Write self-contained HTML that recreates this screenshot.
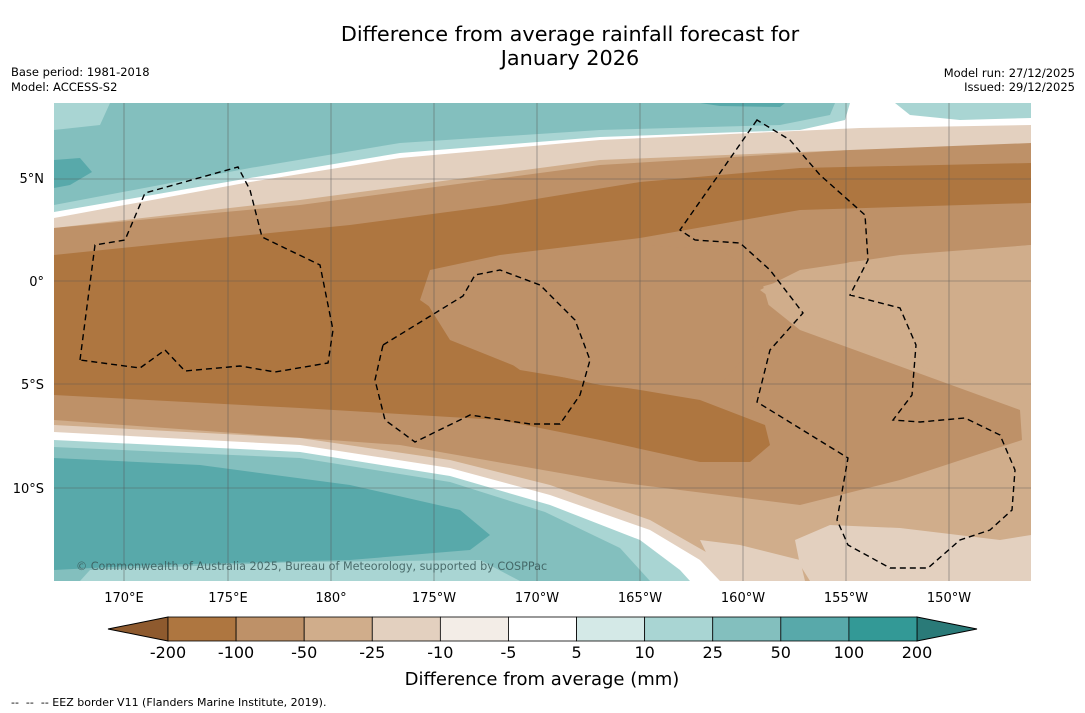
<!DOCTYPE html>
<html><head><meta charset="utf-8"><style>
body{margin:0;width:1085px;height:713px;background:#fff;font-family:"DejaVu Sans","Liberation Sans",sans-serif;overflow:hidden;position:relative}
.t{position:absolute;font-size:11.5px;color:#000}
svg text{font-family:"DejaVu Sans","Liberation Sans",sans-serif}
</style></head><body>
<div style="position:absolute;left:0;width:1140px;top:22px;text-align:center;font-size:20.8px;line-height:24px">Difference from average rainfall forecast for<br>January 2026</div>
<div class="t" style="left:11px;top:65px">Base period: 1981-2018</div>
<div class="t" style="left:11px;top:80px">Model: ACCESS-S2</div>
<div class="t" style="right:10px;top:66px;text-align:right">Model run: 27/12/2025</div>
<div class="t" style="right:10px;top:80px;text-align:right">Issued: 29/12/2025</div>
<svg width="1085" height="713" style="position:absolute;left:0;top:0">
<defs><clipPath id="mc"><rect x="54" y="103" width="977" height="478"/></clipPath></defs>
<g clip-path="url(#mc)">
<rect x="54" y="103" width="977" height="478" fill="#d0ad8b"/>
<path d="M54,103 L1031,103 L1031,150 L850,150 L600,160 L300,200 L54,228 Z" fill="#e3d0bf"/>
<path d="M54,103 L1031,103 L1031,125 L860,128 L600,140 L400,158 L250,182 L54,218 Z" fill="#fff"/>
<path d="M54,103 L850,103 L845,120 L800,130 L600,137 L400,153 L250,178 L54,212 Z" fill="#a9d5d3"/>
<path d="M54,103 L835,103 L830,115 L780,125 L600,130 L400,143 L250,168 L54,205 Z" fill="#83bfbe"/>
<path d="M54,103 L110,103 L100,125 L54,130 Z" fill="#a9d5d3"/>
<path d="M54,160 L80,158 L92,172 L70,185 L54,188 Z" fill="#58a9aa"/>
<path d="M700,103 L785,103 L780,107 L720,106 Z" fill="#58a9aa"/>
<path d="M895,103 L1031,103 L1031,118 L960,120 L910,115 Z" fill="#a9d5d3"/>
<path d="M54,228 L300,205 L600,165 L850,150 L1031,143 L1031,245 L850,262 L750,290 L800,330 L1020,410 L1022,440 L900,480 L800,505 L600,480 L400,445 L54,420 Z" fill="#be9168"/>
<path d="M54,255 L200,240 L350,225 L500,205 L640,182 L800,168 L1031,163 L1031,203 L800,210 L640,238 L500,255 L430,270 L420,300 L520,370 L700,400 L765,425 L770,445 L750,462 L700,462 L600,440 L500,420 L300,408 L54,395 Z" fill="#ae7640"/>
<path d="M430,272 L520,255 L640,245 L720,250 L760,275 L770,310 L755,345 L720,385 L690,395 L600,385 L520,368 L450,340 L425,300 Z" fill="#be9168"/>
<path d="M760,290 L800,270 L900,255 L1031,245 L1031,400 L1000,390 L900,360 L800,320 Z" fill="#d0ad8b"/>
<path d="M54,425 L300,438 L450,460 L550,485 L650,520 L720,560 L750,581 L54,581 Z" fill="#e3d0bf"/>
<path d="M54,432 L300,445 L450,468 L550,495 L650,530 L700,560 L720,581 L54,581 Z" fill="#fff"/>
<path d="M54,440 L300,452 L450,476 L550,505 L640,540 L680,570 L690,581 L54,581 Z" fill="#a9d5d3"/>
<path d="M54,447 L300,458 L450,482 L545,512 L620,548 L650,581 L54,581 Z" fill="#83bfbe"/>
<path d="M54,458 L200,465 L350,485 L460,510 L490,535 L470,550 L350,560 L150,565 L54,570 Z" fill="#58a9aa"/>
<path d="M90,570 L300,562 L480,560 L520,581 L80,581 Z" fill="#a9d5d3"/>
<path d="M795,540 L830,525 L900,528 L1000,540 L1031,535 L1031,581 L810,581 L800,565 Z" fill="#e3d0bf"/>
<path d="M700,540 L740,545 L800,560 L805,581 L720,581 Z" fill="#e3d0bf"/>
<g stroke="#555" stroke-width="0.6" opacity="0.8">
<line x1="124" y1="103" x2="124" y2="581"/><line x1="228" y1="103" x2="228" y2="581"/><line x1="331" y1="103" x2="331" y2="581"/><line x1="434" y1="103" x2="434" y2="581"/><line x1="537" y1="103" x2="537" y2="581"/><line x1="640" y1="103" x2="640" y2="581"/><line x1="743" y1="103" x2="743" y2="581"/><line x1="846" y1="103" x2="846" y2="581"/><line x1="949" y1="103" x2="949" y2="581"/>
<line x1="54" y1="179" x2="1031" y2="179"/><line x1="54" y1="281" x2="1031" y2="281"/><line x1="54" y1="384" x2="1031" y2="384"/><line x1="54" y1="488" x2="1031" y2="488"/>
</g>
<g fill="none" stroke="#000" stroke-width="1.4" stroke-dasharray="6,4">
<path d="M80,360 L95,245 L125,240 L145,193 L238,167 L250,190 L262,237 L320,265 L333,330 L328,363 L275,372 L240,366 L185,371 L165,350 L140,368 L80,360"/>
<path d="M383,345 L463,296 L475,275 L500,270 L540,285 L575,320 L590,360 L580,395 L560,424 L530,424 L470,415 L415,442 L385,420 L375,380 Z"/>
<path d="M757,120 L680,230 L695,240 L740,243 L770,270 L803,313 L770,350 L757,402 L848,458 L837,520 L848,545 L890,568 L928,568 L960,540 L990,530 L1012,510 L1015,470 L1000,435 L965,418 L920,422 L893,420 L912,395 L916,345 L900,308 L850,295 L868,260 L865,215 L820,175 L790,140 Z"/>
</g>
<text x="76" y="570" font-size="11.2" fill="#3a5a5a" opacity="0.85">© Commonwealth of Australia 2025, Bureau of Meteorology, supported by COSPPac</text>
</g>
<g font-size="13" fill="#000">
<text x="44" y="183" text-anchor="end">5°N</text><text x="44" y="286" text-anchor="end">0°</text><text x="44" y="389" text-anchor="end">5°S</text><text x="44" y="493" text-anchor="end">10°S</text>
</g>
<g font-size="13" fill="#000" text-anchor="middle">
<text x="124" y="602">170°E</text><text x="228" y="602">175°E</text><text x="331" y="602">180°</text><text x="434" y="602">175°W</text><text x="537" y="602">170°W</text><text x="640" y="602">165°W</text><text x="743" y="602">160°W</text><text x="846" y="602">155°W</text><text x="949" y="602">150°W</text>
</g>
<g id="cbar"></g>
<text x="542" y="685" font-size="18" text-anchor="middle">Difference from average (mm)</text>
<text x="11" y="706" font-size="11">-- &#160;-- &#160;-- EEZ border V11 (Flanders Marine Institute, 2019).</text>
</svg>
<script>
const levels=[-200,-100,-50,-25,-10,-5,5,10,25,50,100,200];
const levelLabels=["-200","-100","-50","-25","-10","-5","5","10","25","50","100","200"];
const bandColors=["#ae7640","#be9168","#d0ad8b","#e3d0bf","#f3ede7","#ffffff","#d4e9e7","#a9d5d3","#83bfbe","#58a9aa","#339996"];
const ns="http://www.w3.org/2000/svg";
const g=document.getElementById('cbar');
const x0=168,x1=917,y0=617,h=24;
const step=(x1-x0)/(levels.length-1);
function xi(i){return x0+i*step;}
function mk(tag,a){const e=document.createElementNS(ns,tag);for(const k in a)e.setAttribute(k,a[k]);g.appendChild(e);return e;}
const lt=mk('polygon',{points:`${x0},${y0} 108,${y0+h/2} ${x0},${y0+h}`,fill:"#8e5a2e",stroke:"#000","stroke-width":1});


const rt=mk('polygon',{points:`${x1},${y0} 977,${y0+h/2} ${x1},${y0+h}`,fill:"#2a7a78",stroke:"#000","stroke-width":1});


bandColors.forEach((c,i)=>{
 const r=mk('rect',{x:xi(i),y:y0,width:step,height:h,fill:c,stroke:"#000","stroke-width":0.8});
 
 
});
levelLabels.forEach((l,i)=>{
 const t=mk('text',{x:xi(i),y:658,"font-size":16,"text-anchor":"middle"});
 t.textContent=l;
 
 
});
</script>
</body></html>
